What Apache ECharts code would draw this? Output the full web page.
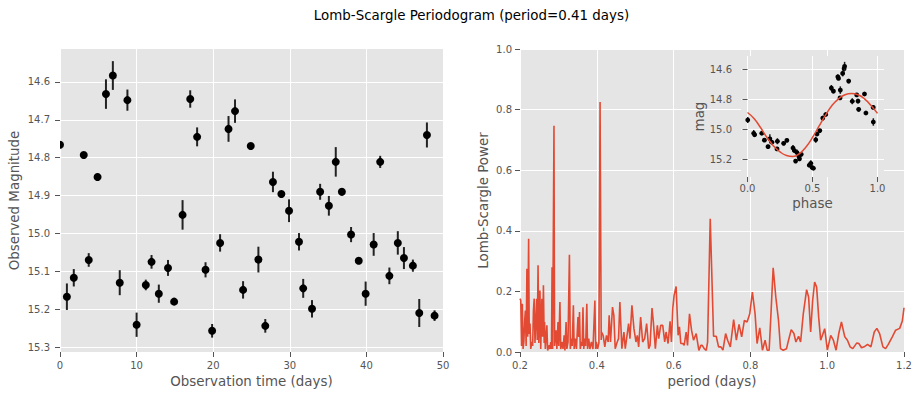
<!DOCTYPE html>
<html>
<head>
<meta charset="utf-8">
<script src="https://cdn.jsdelivr.net/npm/echarts@6/dist/echarts.min.js"></script>
<style>html,body{margin:0;padding:0;background:#fff}#c{width:920px;height:396px}</style>
</head>
<body>
<div id="c"></div>
<script>
// ---- data ----
const obsTime = [0.0,0.9,1.8,3.1,3.75,4.9,6.0,6.9,7.8,8.8,10.0,11.2,11.95,12.9,14.1,14.9,16.0,17.0,17.9,19.0,19.86,20.9,22.0,22.85,23.9,24.9,25.9,26.8,27.8,28.9,29.9,31.2,31.75,32.9,33.96,35.1,36.0,36.8,38.0,39.0,39.9,40.95,41.8,43.0,44.1,44.9,46.07,46.9,47.9,48.9];
const obsMag = [14.766,15.167,15.117,14.793,15.07,14.851,14.632,14.583,15.13,14.648,15.241,15.136,15.075,15.159,15.091,15.18,14.951,14.645,14.745,15.096,15.257,15.025,14.724,14.677,15.149,14.769,15.069,15.244,14.864,14.896,14.94,15.022,15.145,15.199,14.89,14.927,14.811,14.89,15.003,15.072,15.159,15.029,14.811,15.112,15.025,15.065,15.085,15.21,14.74,15.217];
const obsErr = [0.005,0.035,0.023,0.007,0.018,0.01,0.039,0.038,0.033,0.028,0.032,0.014,0.018,0.024,0.021,0.008,0.039,0.023,0.025,0.02,0.018,0.023,0.034,0.031,0.023,0.006,0.034,0.018,0.027,0.007,0.03,0.023,0.025,0.023,0.021,0.026,0.039,0.01,0.02,0.008,0.032,0.03,0.016,0.022,0.031,0.029,0.016,0.037,0.033,0.014];

const periods = [0.200,0.202,0.204,0.206,0.208,0.210,0.212,0.214,0.216,0.218,0.220,0.2225,0.224,0.226,0.228,0.231,0.233,0.235,0.237,0.239,0.2435,0.245,0.247,0.249,0.252,0.254,0.257,0.259,0.261,0.263,0.264,0.266,0.270,0.272,0.275,0.278,0.280,0.282,0.2835,0.285,0.2885,0.290,0.294,0.296,0.299,0.301,0.304,0.306,0.310,0.312,0.315,0.317,0.320,0.322,0.325,0.3287,0.331,0.334,0.336,0.339,0.341,0.344,0.347,0.351,0.353,0.355,0.357,0.360,0.362,0.364,0.366,0.369,0.371,0.374,0.376,0.379,0.382,0.386,0.390,0.395,0.397,0.399,0.402,0.4055,0.4085,0.4115,0.4122,0.4165,0.4209,0.4252,0.4296,0.4322,0.4357,0.4409,0.4444,0.4479,0.4531,0.4566,0.4601,0.4653,0.4706,0.4741,0.4776,0.4828,0.4863,0.4915,0.4967,0.5020,0.5055,0.5090,0.5142,0.5194,0.5246,0.5298,0.5351,0.5386,0.5438,0.5473,0.5525,0.5577,0.5612,0.5664,0.5717,0.5769,0.5804,0.5856,0.5908,0.5943,0.5978,0.6013,0.6065,0.6118,0.6152,0.6187,0.6240,0.6275,0.6327,0.6362,0.6414,0.6467,0.6519,0.6588,0.6658,0.6711,0.6745,0.6797,0.6850,0.6885,0.6954,0.7041,0.7110,0.7171,0.7232,0.7285,0.7355,0.7407,0.7477,0.7564,0.7634,0.7704,0.7773,0.7843,0.7913,0.7983,0.8052,0.8122,0.8174,0.8244,0.8314,0.8383,0.8436,0.8488,0.8540,0.8593,0.8662,0.8732,0.8784,0.8854,0.8941,0.8993,0.9063,0.9133,0.9185,0.9255,0.9307,0.9377,0.9464,0.9516,0.9569,0.9621,0.9673,0.9725,0.9778,0.9830,0.9935,1.0004,1.0092,1.0161,1.0231,1.0301,1.0371,1.0458,1.0527,1.0597,1.0667,1.0771,1.0824,1.0894,1.0963,1.1051,1.1138,1.1225,1.1294,1.1364,1.1451,1.1521,1.1591,1.1695,1.1782,1.1887,1.1956,1.2000];
const power = [0.176,0.170,0.020,0.159,0.010,0.033,0.100,0.137,0.020,0.275,0.050,0.374,0.060,0.094,0.010,0.033,0.020,0.137,0.176,0.030,0.176,0.040,0.286,0.030,0.203,0.010,0.176,0.050,0.220,0.030,0.099,0.010,0.088,0.005,0.022,0.010,0.033,0.010,0.280,0.010,0.747,0.020,0.072,0.010,0.099,0.020,0.165,0.010,0.033,0.010,0.055,0.005,0.099,0.010,0.033,0.321,0.010,0.044,0.020,0.154,0.010,0.044,0.010,0.115,0.050,0.132,0.010,0.033,0.020,0.148,0.010,0.044,0.020,0.159,0.010,0.044,0.010,0.033,0.010,0.170,0.010,0.033,0.010,0.030,0.825,0.040,0.066,0.055,0.017,0.055,0.033,0.121,0.033,0.148,0.121,0.011,0.033,0.044,0.165,0.011,0.066,0.011,0.044,0.094,0.044,0.154,0.077,0.033,0.055,0.017,0.115,0.033,0.044,0.094,0.011,0.022,0.145,0.099,0.011,0.088,0.044,0.088,0.088,0.033,0.066,0.028,0.101,0.033,0.143,0.187,0.216,0.055,0.083,0.028,0.028,0.022,0.066,0.022,0.126,0.072,0.039,0.061,0.005,0.022,0.022,0.011,0.005,0.033,0.440,0.052,0.052,0.017,0.017,0.006,0.061,0.039,0.017,0.107,0.039,0.091,0.050,0.104,0.099,0.126,0.198,0.126,0.028,0.080,0.006,0.039,0.006,0.006,0.137,0.278,0.181,0.104,0.011,0.006,0.011,0.039,0.074,0.061,0.033,0.052,0.033,0.126,0.206,0.181,0.066,0.170,0.231,0.214,0.115,0.039,0.077,0.006,0.055,0.039,0.006,0.061,0.099,0.050,0.039,0.017,0.011,0.030,0.028,0.014,0.017,0.025,0.017,0.066,0.078,0.061,0.017,0.011,0.025,0.050,0.072,0.078,0.102,0.146];

const foldPhase = [0.002,0.048,0.055,0.11,0.13,0.158,0.172,0.188,0.227,0.23,0.278,0.303,0.35,0.36,0.37,0.38,0.395,0.40,0.413,0.475,0.487,0.497,0.507,0.525,0.535,0.556,0.579,0.602,0.645,0.661,0.695,0.700,0.714,0.712,0.732,0.743,0.747,0.778,0.806,0.84,0.85,0.855,0.9,0.911,0.967,0.968];
const foldMag = [14.937,15.025,15.035,15.025,15.071,15.114,15.062,15.085,15.129,15.078,15.092,15.072,15.123,15.14,15.21,15.153,15.178,15.195,15.165,15.238,15.225,15.253,15.258,15.068,15.03,15.007,14.924,14.9,14.724,14.745,14.649,14.66,14.738,14.79,14.627,14.595,14.58,14.678,14.812,14.77,14.811,14.866,14.764,14.89,14.853,14.95];
const foldErr = [0.02,0.022,0.01,0.012,0.01,0.012,0.03,0.015,0.012,0.02,0.012,0.01,0.02,0.015,0.01,0.02,0.02,0.015,0.015,0.012,0.02,0.01,0.008,0.02,0.012,0.01,0.015,0.01,0.02,0.015,0.015,0.01,0.025,0.01,0.02,0.02,0.03,0.015,0.02,0.01,0.015,0.015,0.01,0.01,0.012,0.025];

const fitPhase = [0.0,0.05,0.1,0.15,0.2,0.25,0.3,0.35,0.4,0.45,0.5,0.55,0.6,0.65,0.7,0.75,0.8,0.85,0.9,0.95,1.0];
const fitMag = [14.887,14.927,14.987,15.053,15.109,15.149,15.173,15.18,15.16,15.116,15.053,14.978,14.904,14.84,14.796,14.769,14.76,14.769,14.796,14.84,14.893];

const timeTicks = [0,10,20,30,40,50];
const magTicks = [14.6,14.7,14.8,14.9,15.0,15.1,15.2,15.3];
const periodTicks = [0.2,0.4,0.6,0.8,1.0,1.2];
const powerTicks = [0.0,0.2,0.4,0.6,0.8,1.0];
const phaseTicks = [0.0,0.5,1.0];
const insetMagTicks = [14.6,14.8,15.0,15.2];

// ---- styling ----
const FONT = 'DejaVu Sans';
const BG = '#E5E5E5';
const TXT = '#555555';
const RED = '#E24A33';

function axisBase(extra) {
  return Object.assign({
    type: 'value',
    axisLine: {show: false},
    axisTick: {show: true, inside: false, length: 5, lineStyle: {color: TXT, width: 1}},
    axisLabel: {color: TXT, fontSize: 10, fontFamily: FONT, margin: 8},
    splitLine: {show: true, lineStyle: {color: '#FFFFFF', width: 1}},
    nameTextStyle: {color: TXT, fontSize: 13.4, fontFamily: FONT},
    nameLocation: 'middle'
  }, extra);
}
function withTicks(ax, ticks, fmt) {
  ax.axisTick.customValues = ticks;
  ax.axisLabel.customValues = ticks;
  ax.axisLabel.formatter = fmt;
  return ax;
}
const f1 = v => Number(v).toFixed(1);
const f0 = v => String(Math.round(v));

function errRender(r, lw, color, ecolor) {
  return function (params, api) {
    const x = api.value(0), y = api.value(1), e = api.value(2);
    const a = api.coord([x, y - e]);
    const b = api.coord([x, y + e]);
    const c = api.coord([x, y]);
    const cs = params.coordSys;
    return {
      type: 'group',
      clipPath: {type: 'rect', shape: {x: cs.x, y: cs.y, width: cs.width, height: cs.height}},
      children: [
        {type: 'line', shape: {x1: a[0], y1: a[1], x2: b[0], y2: b[1]}, style: {stroke: ecolor, lineWidth: lw}},
        {type: 'circle', shape: {cx: c[0], cy: c[1], r: r}, style: {fill: color}}
      ]
    };
  };
}

const obsData = obsTime.map((t, i) => [t, obsMag[i], obsErr[i]]);
const foldData = foldPhase.map((p, i) => [p, foldMag[i], foldErr[i]]);
const pgData = periods.map((p, i) => [p, power[i]]);
const fitData = fitPhase.map((p, i) => [p, fitMag[i]]);

const xAxes = [
  withTicks(axisBase({gridIndex: 0, min: 0, max: 50, name: 'Observation time (days)', nameGap: 21}), timeTicks, f0),
  withTicks(axisBase({gridIndex: 1, min: 0.2, max: 1.2, name: 'period (days)', nameGap: 21}), periodTicks, f1),
  withTicks(axisBase({gridIndex: 2, min: -0.05, max: 1.05, name: 'phase', nameGap: 20, z: 5}), phaseTicks, f1)
];
xAxes[2].axisLabel.margin = 6;

const yAxes = [
  withTicks(axisBase({gridIndex: 0, min: 14.513, max: 15.313, inverse: true, name: 'Observed Magnitude', nameGap: 39}), magTicks, f1),
  withTicks(axisBase({gridIndex: 1, min: 0, max: 1, name: 'Lomb-Scargle Power', nameGap: 30}), powerTicks, f1),
  withTicks(axisBase({gridIndex: 2, min: 14.511, max: 15.316, inverse: true, name: 'mag', nameGap: 35, z: 5}), insetMagTicks, f1)
];
yAxes[0].axisLabel.margin = 10;
yAxes[2].axisLabel.margin = 9;

const chart = echarts.init(document.getElementById('c'), null, {renderer: 'svg'});
chart.setOption({
  animation: false,
  backgroundColor: '#FFFFFF',
  textStyle: {fontFamily: FONT},
  graphic: [{
    type: 'text', x: 471.5, y: 15, z: 10,
    style: {text: 'Lomb-Scargle Periodogram (period=0.41 days)', fontSize: 13.4, fontFamily: FONT, fill: '#000000', align: 'center', verticalAlign: 'middle'}
  }],
  grid: [
    {left: 60, top: 49, width: 383, height: 303, show: true, backgroundColor: BG, borderWidth: 0, z: 0},
    {left: 520, top: 49, width: 384, height: 303, show: true, backgroundColor: BG, borderWidth: 0, z: 0},
    {left: 741, top: 56, width: 143, height: 121, show: true, backgroundColor: BG, borderWidth: 0, z: 4}
  ],
  xAxis: xAxes,
  yAxis: yAxes,
  series: [
    {type: 'custom', xAxisIndex: 0, yAxisIndex: 0, data: obsData, clip: true, renderItem: errRender(4, 2, '#000000', '#222222'), encode: {x: 0, y: 1}, z: 3},
    {type: 'line', xAxisIndex: 1, yAxisIndex: 1, data: pgData, showSymbol: false, clip: true, lineStyle: {color: RED, width: 1.6}, z: 2},
    {type: 'custom', xAxisIndex: 2, yAxisIndex: 2, data: foldData, clip: true, renderItem: errRender(2.4, 1.5, '#000000', '#222222'), encode: {x: 0, y: 1}, z: 8},
    {type: 'line', xAxisIndex: 2, yAxisIndex: 2, data: fitData, smooth: true, showSymbol: false, clip: true, lineStyle: {color: RED, width: 1.5}, z: 9}
  ]
});
</script>
</body>
</html>
